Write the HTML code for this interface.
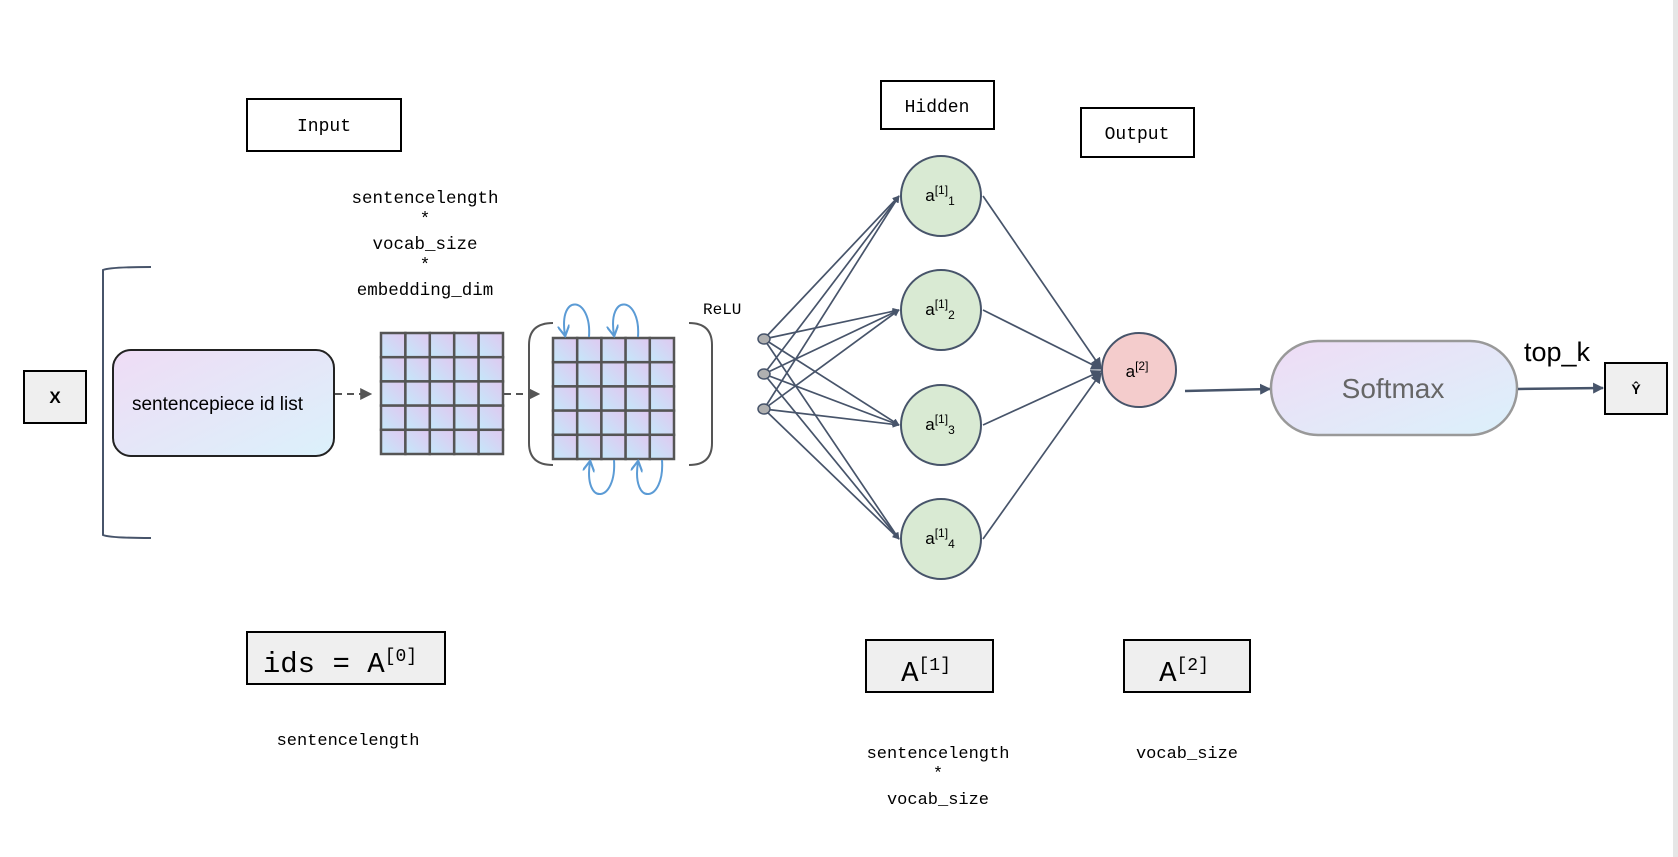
<!DOCTYPE html>
<html><head><meta charset="utf-8"><style>
html,body{margin:0;padding:0;background:#fff}
svg{display:block}
.m{font-family:"Liberation Mono","DejaVu Sans Mono",monospace}
.s{font-family:"Liberation Sans","DejaVu Sans",sans-serif}
</style></head><body>
<svg width="1678" height="857" viewBox="0 0 1678 857" xmlns="http://www.w3.org/2000/svg">
<defs>
<linearGradient id="cell" x1="0" y1="1" x2="1" y2="0">
<stop offset="0" stop-color="#c4e8fa"/><stop offset="1" stop-color="#e0c8f0"/></linearGradient>
<linearGradient id="pill" x1="0" y1="0" x2="1" y2="1">
<stop offset="0" stop-color="#efdcf5"/><stop offset="1" stop-color="#dbf1fb"/></linearGradient>
<marker id="ah" viewBox="0 0 10 10" refX="9" refY="5" markerWidth="7" markerHeight="7" orient="auto" markerUnits="userSpaceOnUse">
<path d="M0,0 L10,5 L0,10 z" fill="#47546a"/></marker>
<marker id="ah2" viewBox="0 0 10 10" refX="9" refY="5" markerWidth="11" markerHeight="11" orient="auto" markerUnits="userSpaceOnUse">
<path d="M0,0 L10,5 L0,10 z" fill="#47546a"/></marker>
<marker id="gd" viewBox="0 0 10 10" refX="9" refY="5" markerWidth="12" markerHeight="12" orient="auto" markerUnits="userSpaceOnUse">
<path d="M0,0 L10,5 L0,10 z" fill="#555"/></marker>
<marker id="bl" viewBox="0 0 10 10" refX="8" refY="5" markerWidth="12" markerHeight="12" orient="auto" markerUnits="userSpaceOnUse">
<path d="M0,0 L9,5 L0,10" fill="none" stroke="#5b9bd5" stroke-width="1.8"/></marker>
</defs>
<rect x="1673" y="0" width="5" height="857" fill="#e6e6e6"/>

<!-- Input -->
<rect x="247" y="99" width="154" height="52" fill="#fff" stroke="#000" stroke-width="2"/>
<text x="324" y="131" text-anchor="middle" class="m" font-size="18">Input</text>
<g class="m" font-size="17.5" text-anchor="middle">
<text x="425" y="203">sentencelength</text>
<text x="425" y="224">*</text>
<text x="425" y="249">vocab_size</text>
<text x="425" y="270">*</text>
<text x="425" y="295">embedding_dim</text>
</g>

<!-- X -->
<rect x="24" y="371" width="62" height="52" fill="#efefef" stroke="#000" stroke-width="2"/>
<text x="55" y="403" text-anchor="middle" class="s" font-size="17" font-weight="bold">X</text>
<path d="M151,267 Q110,267 103,270 L103,535 Q110,538 151,538" fill="none" stroke="#47546a" stroke-width="2"/>

<rect x="113" y="350" width="221" height="106" rx="18" fill="url(#pill)" stroke="#222" stroke-width="2"/>
<text x="132" y="410" class="s" font-size="19" textLength="171" lengthAdjust="spacingAndGlyphs">sentencepiece id list</text>
<line x1="335" y1="394" x2="371" y2="394" stroke="#555" stroke-width="2" stroke-dasharray="7,5" marker-end="url(#gd)"/>

<!-- grid1 -->
<g stroke="#555" stroke-width="2.5" fill="url(#cell)">
<rect x="381" y="333" width="24.4" height="24.2"/><rect x="405.4" y="333" width="24.4" height="24.2"/><rect x="429.8" y="333" width="24.4" height="24.2"/><rect x="454.2" y="333" width="24.4" height="24.2"/><rect x="478.6" y="333" width="24.4" height="24.2"/>
<rect x="381" y="357.2" width="24.4" height="24.2"/><rect x="405.4" y="357.2" width="24.4" height="24.2"/><rect x="429.8" y="357.2" width="24.4" height="24.2"/><rect x="454.2" y="357.2" width="24.4" height="24.2"/><rect x="478.6" y="357.2" width="24.4" height="24.2"/>
<rect x="381" y="381.4" width="24.4" height="24.2"/><rect x="405.4" y="381.4" width="24.4" height="24.2"/><rect x="429.8" y="381.4" width="24.4" height="24.2"/><rect x="454.2" y="381.4" width="24.4" height="24.2"/><rect x="478.6" y="381.4" width="24.4" height="24.2"/>
<rect x="381" y="405.6" width="24.4" height="24.2"/><rect x="405.4" y="405.6" width="24.4" height="24.2"/><rect x="429.8" y="405.6" width="24.4" height="24.2"/><rect x="454.2" y="405.6" width="24.4" height="24.2"/><rect x="478.6" y="405.6" width="24.4" height="24.2"/>
<rect x="381" y="429.8" width="24.4" height="24.2"/><rect x="405.4" y="429.8" width="24.4" height="24.2"/><rect x="429.8" y="429.8" width="24.4" height="24.2"/><rect x="454.2" y="429.8" width="24.4" height="24.2"/><rect x="478.6" y="429.8" width="24.4" height="24.2"/>
</g>
<line x1="504" y1="394" x2="539" y2="394" stroke="#555" stroke-width="2" stroke-dasharray="7,5" marker-end="url(#gd)"/>

<!-- grid2 -->
<g stroke="#555" stroke-width="2.5" fill="url(#cell)">
<rect x="553" y="338" width="24.2" height="24.2"/><rect x="577.2" y="338" width="24.2" height="24.2"/><rect x="601.4" y="338" width="24.2" height="24.2"/><rect x="625.6" y="338" width="24.2" height="24.2"/><rect x="649.8" y="338" width="24.2" height="24.2"/>
<rect x="553" y="362.2" width="24.2" height="24.2"/><rect x="577.2" y="362.2" width="24.2" height="24.2"/><rect x="601.4" y="362.2" width="24.2" height="24.2"/><rect x="625.6" y="362.2" width="24.2" height="24.2"/><rect x="649.8" y="362.2" width="24.2" height="24.2"/>
<rect x="553" y="386.4" width="24.2" height="24.2"/><rect x="577.2" y="386.4" width="24.2" height="24.2"/><rect x="601.4" y="386.4" width="24.2" height="24.2"/><rect x="625.6" y="386.4" width="24.2" height="24.2"/><rect x="649.8" y="386.4" width="24.2" height="24.2"/>
<rect x="553" y="410.6" width="24.2" height="24.2"/><rect x="577.2" y="410.6" width="24.2" height="24.2"/><rect x="601.4" y="410.6" width="24.2" height="24.2"/><rect x="625.6" y="410.6" width="24.2" height="24.2"/><rect x="649.8" y="410.6" width="24.2" height="24.2"/>
<rect x="553" y="434.8" width="24.2" height="24.2"/><rect x="577.2" y="434.8" width="24.2" height="24.2"/><rect x="601.4" y="434.8" width="24.2" height="24.2"/><rect x="625.6" y="434.8" width="24.2" height="24.2"/><rect x="649.8" y="434.8" width="24.2" height="24.2"/>
</g>
<path d="M553,323 Q529,323 529,345 L529,443 Q529,465 553,465" fill="none" stroke="#555" stroke-width="2"/>
<path d="M689,323 Q712,323 712,345 L712,443 Q712,465 689,465" fill="none" stroke="#555" stroke-width="2"/>
<text x="703" y="314" class="m" font-size="16">ReLU</text>
<!-- loops -->
<g fill="none" stroke="#5b9bd5" stroke-width="2">
<path d="M589,337 C592,296 558,292 565,335" marker-end="url(#bl)"/>
<path d="M638,337 C641,296 607,292 614,335" marker-end="url(#bl)"/>
<path d="M614,460 C617,503 583,507 590,462" marker-end="url(#bl)"/>
<path d="M662,460 C665,503 631,507 638,462" marker-end="url(#bl)"/>
</g>

<!-- connections input->hidden -->
<g stroke="#47546a" stroke-width="1.7" marker-end="url(#ah)">
<line x1="764" y1="339" x2="899" y2="196"/><line x1="764" y1="339" x2="899" y2="310"/><line x1="764" y1="339" x2="899" y2="425"/><line x1="764" y1="339" x2="899" y2="539"/>
<line x1="764" y1="374" x2="899" y2="196"/><line x1="764" y1="374" x2="899" y2="310"/><line x1="764" y1="374" x2="899" y2="425"/><line x1="764" y1="374" x2="899" y2="539"/>
<line x1="764" y1="409" x2="899" y2="196"/><line x1="764" y1="409" x2="899" y2="310"/><line x1="764" y1="409" x2="899" y2="425"/><line x1="764" y1="409" x2="899" y2="539"/>
</g>
<g fill="#b0b0b0" stroke="#47546a" stroke-width="1.5">
<ellipse cx="764" cy="339" rx="6" ry="5"/><ellipse cx="764" cy="374" rx="6" ry="5"/><ellipse cx="764" cy="409" rx="6" ry="5"/>
</g>
<g stroke="#47546a" stroke-width="1.7" marker-end="url(#ah2)">
<line x1="983" y1="196" x2="1101" y2="368"/><line x1="983" y1="310" x2="1101" y2="369"/><line x1="983" y1="425" x2="1101" y2="371"/><line x1="983" y1="539" x2="1101" y2="373"/>
</g>
<g fill="#d9ead3" stroke="#47546a" stroke-width="2">
<circle cx="941" cy="196" r="40"/><circle cx="941" cy="310" r="40"/><circle cx="941" cy="425" r="40"/><circle cx="941" cy="539" r="40"/>
</g>
<g class="s" font-size="17" text-anchor="middle">
<text x="940" y="201">a<tspan font-size="12" dy="-7">[1]</tspan><tspan font-size="12" dy="11">1</tspan></text>
<text x="940" y="315">a<tspan font-size="12" dy="-7">[1]</tspan><tspan font-size="12" dy="11">2</tspan></text>
<text x="940" y="430">a<tspan font-size="12" dy="-7">[1]</tspan><tspan font-size="12" dy="11">3</tspan></text>
<text x="940" y="544">a<tspan font-size="12" dy="-7">[1]</tspan><tspan font-size="12" dy="11">4</tspan></text>
</g>
<circle cx="1139" cy="370" r="37" fill="#f4cccc" stroke="#47546a" stroke-width="2"/>
<text x="1137" y="377" class="s" font-size="17" text-anchor="middle">a<tspan font-size="12" dy="-7">[2]</tspan></text>

<rect x="881" y="81" width="113" height="48" fill="#fff" stroke="#000" stroke-width="2"/>
<text x="937" y="112" text-anchor="middle" class="m" font-size="18">Hidden</text>
<rect x="1081" y="108" width="113" height="49" fill="#fff" stroke="#000" stroke-width="2"/>
<text x="1137" y="139" text-anchor="middle" class="m" font-size="18">Output</text>

<line x1="1185" y1="391" x2="1270" y2="389" stroke="#47546a" stroke-width="2.5" marker-end="url(#ah2)"/>
<rect x="1271" y="341" width="246" height="94" rx="47" fill="url(#pill)" stroke="#999" stroke-width="2.5"/>
<text x="1393" y="398" text-anchor="middle" class="s" font-size="28" fill="#666">Softmax</text>
<line x1="1518" y1="389" x2="1603" y2="388" stroke="#47546a" stroke-width="2.5" marker-end="url(#ah2)"/>
<text x="1524" y="361" class="s" font-size="27">top_k</text>
<rect x="1605" y="363" width="62" height="51" fill="#efefef" stroke="#000" stroke-width="2"/>
<text x="1636" y="394" text-anchor="middle" class="s" font-size="14" font-weight="bold">Ŷ</text>

<!-- bottom -->
<rect x="247" y="632" width="198" height="52" fill="#efefef" stroke="#000" stroke-width="2"/>
<text x="340" y="672" text-anchor="middle" class="m" font-size="29">ids = A<tspan font-size="18" dy="-11">[0]</tspan></text>
<text x="348" y="745" text-anchor="middle" class="m" font-size="17">sentencelength</text>
<rect x="866" y="640" width="127" height="52" fill="#efefef" stroke="#000" stroke-width="2"/>
<text x="926" y="681" text-anchor="middle" class="m" font-size="29">A<tspan font-size="18" dy="-11">[1]</tspan></text>
<rect x="1124" y="640" width="126" height="52" fill="#efefef" stroke="#000" stroke-width="2"/>
<text x="1184" y="681" text-anchor="middle" class="m" font-size="29">A<tspan font-size="18" dy="-11">[2]</tspan></text>
<g class="m" font-size="17" text-anchor="middle">
<text x="938" y="758">sentencelength</text>
<text x="938" y="778">*</text>
<text x="938" y="804">vocab_size</text>
<text x="1187" y="758">vocab_size</text>
</g>
</svg>
</body></html>
